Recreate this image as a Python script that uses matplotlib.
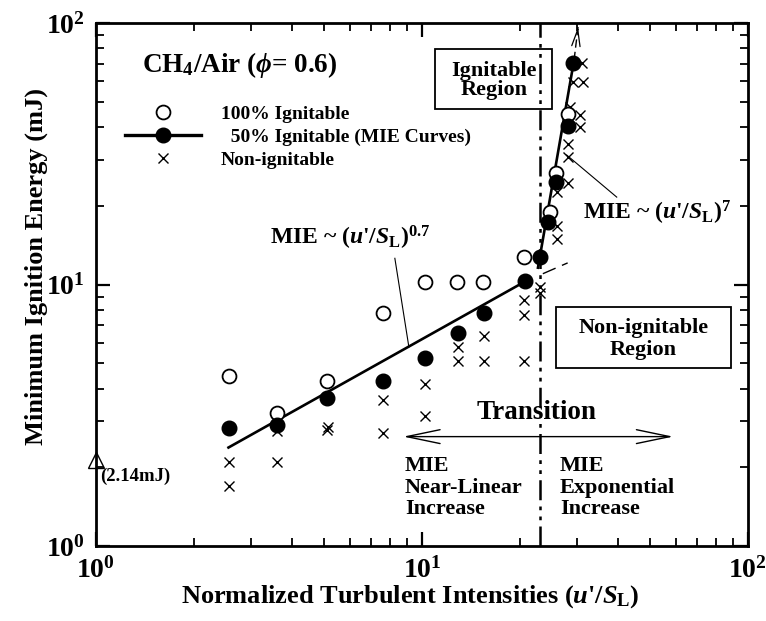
import matplotlib
matplotlib.use('Agg')
import matplotlib.pyplot as plt
from matplotlib.lines import Line2D
from matplotlib.patches import Rectangle

plt.rcParams['font.family'] = ['Liberation Serif', 'DejaVu Serif']
plt.rcParams['font.weight'] = 'bold'
plt.rcParams['axes.labelweight'] = 'bold'
plt.rcParams['mathtext.fontset'] = 'custom'
plt.rcParams['mathtext.rm'] = 'Liberation Serif:bold'
plt.rcParams['mathtext.it'] = 'Liberation Serif:italic:bold'
plt.rcParams['mathtext.bf'] = 'Liberation Serif:bold'

# 100% ignitable (open circles)
ign100_x = [2.56, 3.58, 5.10, 7.61, 10.2, 12.8, 15.4, 20.5, 24.7, 25.8, 28.1]
ign100_y = [4.47, 3.22, 4.27, 7.76, 10.2, 10.2, 10.2, 12.8, 19.0, 26.6, 45.1]

# 50% ignitable (filled circles, MIE)
ign50_x = [2.56, 3.58, 5.10, 7.61, 10.2, 12.9, 15.5, 20.7, 23.1, 24.4, 25.8, 28.1, 29.0]
ign50_y = [2.82, 2.90, 3.69, 4.27, 5.25, 6.51, 7.76, 10.3, 12.8, 17.4, 24.7, 40.4, 70.5]

# non-ignitable (crosses)
non_x = [2.56, 2.56, 3.58, 3.58, 5.10, 5.15, 7.61, 7.61, 10.2, 10.2,
         12.9, 12.9, 15.5, 15.5, 20.5, 20.5, 20.5, 23.1, 23.1,
         25.9, 25.9, 25.9, 28.1, 28.1, 28.1, 28.5, 30.5, 30.5, 29.1, 31.1, 30.9]
non_y = [2.09, 1.69, 2.76, 2.09, 2.78, 2.85, 3.62, 2.70, 4.15, 3.14,
         5.78, 5.10, 6.35, 5.10, 8.7, 7.64, 5.10, 9.8, 9.25,
         16.7, 15.0, 22.6, 24.4, 34.5, 30.8, 47.9, 44.5, 40.0, 59.7, 59.7, 70.5]

# MIE fit lines
lin_x = [2.55, 20.8]
lin_y = [2.38, 10.3]
lin_ext_x = [23.5, 28.0]
lin_ext_y = [11.0, 12.1]
exp_x = [22.7, 29.3]
exp_y = [11.6, 72.2]
exp_ext_x = [29.3, 30.2]
exp_ext_y = [72.2, 99.0]

# quiescent MIE
quiet_x = [1.0]
quiet_y = [2.14]

u_transition = 23.0

fig = plt.figure(figsize=(7.66, 6.21), dpi=100)
ax = fig.add_axes([0.1253, 0.1208, 0.851, 0.842])
ax.set_xscale('log')
ax.set_yscale('log')
ax.set_xlim(1, 100)
ax.set_ylim(1, 100)

ax.axvline(u_transition, color='black', lw=1.8, dashes=(8, 2.5, 1.5, 2.5, 1.5, 2.5))

ax.plot(lin_x, lin_y, color='black', lw=1.9)
ax.plot(lin_ext_x, lin_ext_y, color='black', lw=1.0, dashes=(10, 5))
ax.plot(exp_x, exp_y, color='black', lw=1.9)
ax.plot(exp_ext_x, exp_ext_y, color='black', lw=1.0, dashes=(6, 3))
ax.annotate('', xy=(exp_ext_x[1], exp_ext_y[1]), xytext=(30.0, 92),
            arrowprops=dict(arrowstyle='->,head_length=1.2,head_width=0.3',
                            color='black', lw=0.9, mutation_scale=10))

ax.plot(non_x, non_y, ls='none', marker='x', ms=7.5, mew=1.0, color='black')
ax.plot(ign100_x, ign100_y, ls='none', marker='o', ms=10, mew=1.3,
        mfc='white', mec='black')
ax.plot(ign50_x, ign50_y, ls='none', marker='o', ms=10.5, color='black')
ax.plot(quiet_x, quiet_y, ls='none', marker='^', ms=12, mew=1.0,
        mfc='none', mec='black', clip_on=False)

handles = [
    Line2D([], [], ls='none', marker='o', ms=10, mew=1.3, mfc='white', mec='black'),
    Line2D([], [], color='black', lw=2.4, marker='o', ms=10.5),
    Line2D([], [], ls='none', marker='x', ms=7.5, mew=1.0, color='black'),
]
labels = ['100% Ignitable', '  50% Ignitable (MIE Curves)', 'Non-ignitable']
ax.legend(handles, labels, loc='upper left', bbox_to_anchor=(0.045, 0.843),
          frameon=False, fontsize=14, handlelength=3.9, handletextpad=1.0,
          labelspacing=0.28, borderpad=0, borderaxespad=0)

ax.text(0.071, 0.92, r'CH$_4$/Air ($\phi$= 0.6)', transform=ax.transAxes,
        fontsize=19.5, ha='left', va='center')

ax.add_patch(Rectangle((0.520, 0.836), 0.18, 0.115, transform=ax.transAxes,
                       fill=False, lw=1.3, ec='black'))
ax.text(0.610, 0.890, 'Ignitable\nRegion', transform=ax.transAxes,
        fontsize=16, ha='center', va='center', linespacing=0.95)

ax.add_patch(Rectangle((0.706, 0.340), 0.268, 0.117, transform=ax.transAxes,
                       fill=False, lw=1.3, ec='black'))
ax.text(0.840, 0.396, 'Non-ignitable\nRegion', transform=ax.transAxes,
        fontsize=16, ha='center', va='center', linespacing=1.15)

ax.text(3.42, 15.1, r"MIE ~ $(\mathit{u}$'$/\mathit{S}_\mathrm{L})^{0.7}$",
        fontsize=17, ha='left', va='center')
ax.plot([8.26, 9.12], [12.6, 5.77], color='black', lw=0.8)

ax.text(31.2, 18.8, r"MIE ~ $(\mathit{u}$'$/\mathit{S}_\mathrm{L})^{7}$",
        fontsize=17, ha='left', va='center')
ax.plot([27.8, 39.6], [31.3, 21.6], color='black', lw=0.8)

ax.text(22.4, 3.23, 'Transition', fontsize=19.5, ha='center', va='center')
ax.annotate('', xy=(8.77, 2.62), xytext=(59.0, 2.62),
            arrowprops=dict(arrowstyle='<->,head_length=2.4,head_width=0.5',
                            color='black', lw=1.0, mutation_scale=10,
                            shrinkA=0, shrinkB=0))

ax.text(8.87, 1.67, 'MIE\nNear-Linear\nIncrease', fontsize=16,
        ha='left', va='center', linespacing=1.1)
ax.text(26.5, 1.67, 'MIE\nExponential\nIncrease', fontsize=16,
        ha='left', va='center', linespacing=1.1)
ax.text(1.03, 1.84, '(2.14mJ)', fontsize=13.5, ha='left', va='center')

ax.set_xlabel("Normalized Turbulent Intensities $(\\mathit{u}$'$/\\mathit{S}_\\mathrm{L})$",
              fontsize=19)
ax.set_ylabel('Minimum Ignition Energy (mJ)', fontsize=19)
ax.xaxis.set_label_coords(0.482, -0.072)
ax.yaxis.set_label_coords(-0.074, 0.535)

for s in ax.spines.values():
    s.set_linewidth(2.0)
ax.tick_params(which='both', direction='in', top=True, right=True)
ax.tick_params(which='major', length=10, width=1.6, labelsize=20, pad=8)
ax.tick_params(which='minor', length=6, width=1.3)

fig.savefig('out.png', dpi=100)
